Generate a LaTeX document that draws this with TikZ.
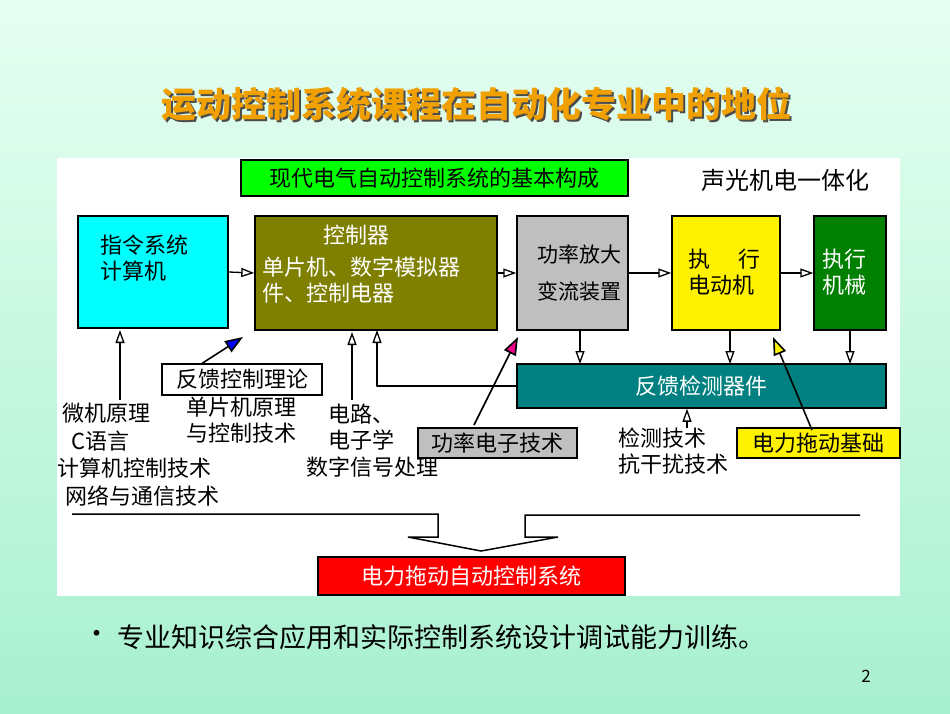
\documentclass[tikz,border=0pt]{standalone}
\usepackage{fontspec}
\setmainfont{Noto Sans CJK SC}
\usetikzlibrary{arrows.meta}
\definecolor{bgA}{HTML}{E6FFF2}
\definecolor{bgB}{HTML}{A8F0D0}
\definecolor{olive2}{HTML}{808000}
\definecolor{teal2}{HTML}{008080}
\definecolor{green2}{HTML}{008000}
\definecolor{cyan2}{HTML}{00FFFF}
\definecolor{ttl}{HTML}{F0A000}
\tikzset{
 bx/.style={draw=black,line width=1.5pt,inner sep=0pt},
 lbl/.style={font=\fontsize{22}{26}\selectfont,align=left,inner sep=0pt},
 oa/.style={-{Triangle[open,length=13pt,width=9pt]},line width=1.3pt},
 fa/.style={-{Triangle[length=18pt,width=13pt,fill=#1]},line width=1.6pt},
}
\newcommand{\ttltext}{运动控制系统课程在自动化专业中的地位}
\begin{document}
\begin{tikzpicture}[x=1pt,y=-1pt]
\shade[top color=bgA,bottom color=bgB] (0,0) rectangle (950,713);
\useasboundingbox (0,0) rectangle (950,713);
\fill[white] (57,158) rectangle (900,596);
\node[font=\bfseries\fontsize{35}{38}\selectfont] (title) at (476,105) {\rlap{\raisebox{-2pt}{\hspace{2pt}\textcolor{black!70}{\ttltext}}}\textcolor{ttl}{\ttltext}};
% boxes
\node[bx,fill=green,minimum width=387pt,minimum height=36pt,lbl] (basic) at (434.5,178) {现代电气自动控制系统的基本构成};
\node[lbl,font=\fontsize{24}{28}\selectfont] (sg) at (785,180) {声光机电一体化};
\node[bx,fill=cyan2,minimum width=150pt,minimum height=112pt] (cmd) at (153,272) {};
\node[lbl,anchor=north west] (cmdt) at (100,235) {指令系统\\计算机};
\node[bx,fill=olive2,minimum width=242pt,minimum height=114pt] (ctl) at (376,273) {};
\node[lbl,text=white] (ctlt1) at (356,235) {控制器};
\node[lbl,text=white,anchor=north west] (ctlt2) at (262,257) {单片机、数字模拟器\\件、控制电器};
\node[bx,fill=black!25,minimum width=111pt,minimum height=114pt] (amp) at (572.5,273) {};
\node[lbl,align=center,font=\fontsize{21}{37}\selectfont] (ampt) at (579,273) {功率放大\\变流装置};
\node[bx,fill=yellow,minimum width=108pt,minimum height=114pt] (mot) at (726,273) {};
\node[lbl,anchor=north west] (mott) at (688,249) {执\hspace{1.3em}行\\电动机};
\node[bx,fill=green2,minimum width=72pt,minimum height=114pt] (mech) at (850,273) {};
\node[lbl,text=white,anchor=north west] (mecht) at (822,249) {执行\\机械};
\node[bx,fill=teal2,minimum width=369pt,minimum height=44pt,lbl,text=white] (fb) at (701.5,386) {反馈检测器件};
\node[bx,fill=white,minimum width=160pt,minimum height=31pt,lbl] (fct) at (242,379.5) {反馈控制理论};
\node[bx,fill=black!25,minimum width=159pt,minimum height=30pt,lbl] (pet) at (497.5,443) {功率电子技术};
\node[bx,fill=yellow,minimum width=163pt,minimum height=30pt,lbl] (edb) at (818.5,443) {电力拖动基础};
\node[bx,fill=red,minimum width=307pt,minimum height=38pt,lbl,text=white] (sys) at (471.5,576) {电力拖动自动控制系统};
% texts
\node[lbl,anchor=north west] (t1) at (62,403) {微机原理};
\node[lbl,anchor=north west] (t2) at (71,431) {C语言};
\node[lbl,anchor=north west] (t3) at (57,458) {计算机控制技术};
\node[lbl,anchor=north west] (t4) at (65,486) {网络与通信技术};
\node[lbl,anchor=north west] (t5) at (186,397) {单片机原理\\与控制技术};
\node[lbl,anchor=north west] (t6) at (328,404) {电路、\\电子学};
\node[lbl,anchor=north west] (t7) at (306,457) {数字信号处理};
\node[lbl,anchor=north west] (t8) at (618,428) {检测技术\\抗干扰技术};
% horizontal arrows
\draw[oa] (cmd.east) -- (ctl.west);
\draw[oa] (ctl.east) -- (amp.west);
\draw[oa] (amp.east) -- (mot.west);
\draw[oa] (mot.east) -- (mech.west);
% vertical
\coordinate (c1) at (120,400);
\draw[oa] (c1) -- (120,330);
\coordinate (c2) at (352,400);
\draw[oa] (c2) -- (352,332);
\draw[oa] (fb.west) -- ++(-140,0) -| (377,330);
\draw[oa] (580,330) -- (580,364);
\draw[oa] (730,330) -- (730,364);
\draw[oa] (850,330) -- (850,364);
\draw[oa] (687,428) -- (fb.south -| 687,0);
\draw[fa=blue] (fct.north west) ++(41,0) -- (243,337);
\draw[fa=magenta] (474,425) -- (518,337);
\draw[fa=yellow] (812,430) -- (773,337);
% bottom
\draw[line width=1.5pt] (72,514) -- (438,514) -- (438,537) -- (408,537) -- (481,551) -- (558,537) -- (525,537) -- (525,515) -- (860,515);
% bullet
\node[font=\fontsize{27}{30}\selectfont,anchor=west] (bul) at (80,637) {•};
\node[font=\fontsize{27}{30}\selectfont,anchor=west] (bt) at (114,637) {专业知识综合应用和实际控制系统设计调试能力训练。};
\node[font=\fontsize{17}{19}\selectfont] (pg) at (866,676) {2};
\end{tikzpicture}
\end{document}
